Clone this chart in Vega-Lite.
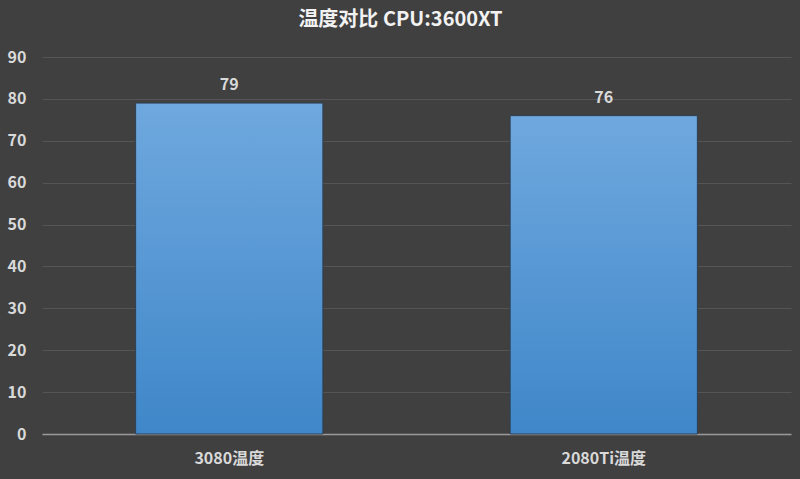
{
  "$schema": "https://vega.github.io/schema/vega-lite/v6.json",
  "description": "温度对比 bar chart, 3080 vs 2080Ti",
  "autosize": {"type": "none"},
  "padding": {"left": 42, "top": 57, "right": 9, "bottom": 45},
  "width": 749,
  "height": 377,
  "background": "#404040",
  "title": {
    "text": "温度对比 CPU:3600XT",
    "color": "#f2f2f2",
    "font": "Noto Sans CJK SC",
    "fontSize": 20,
    "fontWeight": "bold",
    "offset": 19,
    "dx": -16
  },
  "config": {
    "view": {"stroke": null},
    "font": "Noto Sans CJK SC"
  },
  "data": {
    "values": [
      {"item": "3080温度", "temp": 79},
      {"item": "2080Ti温度", "temp": 76}
    ]
  },
  "encoding": {
    "x": {
      "field": "item",
      "type": "nominal",
      "sort": null,
      "scale": {"paddingInner": 0.5, "paddingOuter": 0.25},
      "axis": {
        "title": null,
        "labelAngle": 0,
        "labelColor": "#d9d9d9",
        "labelFont": "Noto Sans CJK SC",
        "labelFontSize": 16,
        "labelFontWeight": "bold",
        "labelPadding": 16,
        "ticks": false,
        "domainColor": "#9a9a9a",
        "domainWidth": 1.5
      }
    },
    "y": {
      "field": "temp",
      "type": "quantitative",
      "scale": {"domain": [0, 90]},
      "axis": {
        "title": null,
        "values": [0, 10, 20, 30, 40, 50, 60, 70, 80, 90],
        "labelColor": "#d9d9d9",
        "labelFont": "Noto Sans CJK SC",
        "labelFontSize": 16,
        "labelFontWeight": "bold",
        "labelPadding": 16,
        "ticks": false,
        "domain": false,
        "gridColor": "#555555",
        "gridWidth": 1
      }
    }
  },
  "layer": [
    {
      "mark": {
        "type": "bar",
        "stroke": "#2f3f50",
        "strokeWidth": 1,
        "color": {
          "gradient": "linear",
          "x1": 0, "y1": 0, "x2": 0, "y2": 1,
          "stops": [
            {"offset": 0, "color": "#6fa8de"},
            {"offset": 1, "color": "#3f87c9"}
          ]
        }
      }
    },
    {
      "mark": {
        "type": "text",
        "dy": -18,
        "fontSize": 16,
        "fontWeight": "bold",
        "color": "#d9d9d9",
        "font": "Noto Sans CJK SC"
      },
      "encoding": {
        "text": {"field": "temp", "type": "quantitative"}
      }
    }
  ]
}
